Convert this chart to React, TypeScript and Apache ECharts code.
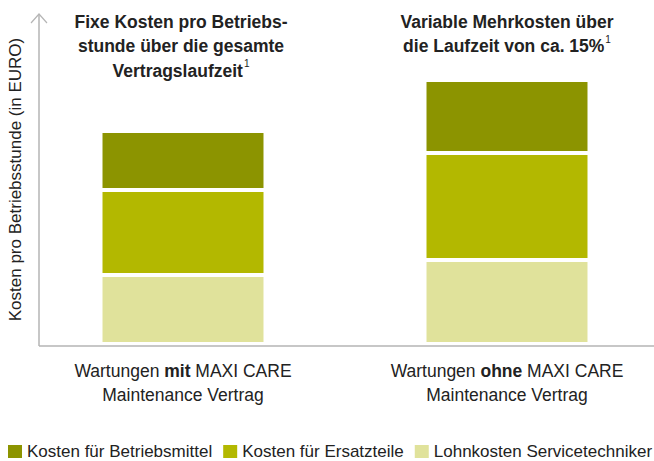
import React, { useEffect, useRef } from "react";
import * as echarts from "echarts";

const categories = ["mit", "ohne"];
const seriesNames = [
  "Kosten für Betriebsmittel",
  "Kosten für Ersatzteile",
  "Lohnkosten Servicetechniker",
];
// stacked from bottom: Lohnkosten, Ersatzteile, Betriebsmittel
const lohnkosten = [69, 84];
const ersatzteile = [85, 107];
const betriebsmittel = [59, 73];
const colors = {
  betriebsmittel: "#8c9400",
  ersatzteile: "#b3b800",
  lohnkosten: "#e0e29b",
};
const titleLeft = "Fixe Kosten pro Betriebs-\nstunde über die gesamte\nVertragslaufzeit{sup|1}";
const titleRight = "Variable Mehrkosten über\ndie Laufzeit von ca. 15%{sup|1}";
const yName = "Kosten pro Betriebsstunde (in EURO)";

const FONT = "Liberation Sans, Arial, sans-serif";
const TXT = "#222";

export default function App() {
  const ref = useRef<HTMLDivElement>(null);
  useEffect(() => {
    if (!ref.current) return;
    const chart = echarts.init(ref.current, undefined, { renderer: "svg" });
    const barCommon = {
      type: "bar",
      stack: "total",
      barWidth: 165,
      itemStyle: { borderColor: "#ffffff", borderWidth: 2 },
      emphasis: { disabled: true },
    };
    const titleRich = {
      sup: { fontSize: 10, fontWeight: "normal", fontFamily: FONT, color: TXT, verticalAlign: "top", lineHeight: 22, padding: [0, 0, 0, 1] },
    };
    chart.setOption({
      animation: false,
      grid: { left: 21, width: 648, top: 14, height: 332, outerBoundsMode: "none", containLabel: false },
      xAxis: {
        type: "category",
        data: categories,
        axisLine: { show: false },
        axisTick: { show: false },
        axisLabel: {
          margin: 13,
          interval: 0,
          lineHeight: 24,
          fontSize: 17.5,
          fontFamily: FONT,
          color: TXT,
          formatter: (v: string) => `Wartungen {b|${v}} MAXI CARE\nMaintenance Vertrag`,
          rich: {
            b: { fontWeight: "bold", fontSize: 17.5, fontFamily: FONT, color: TXT, lineHeight: 24 },
          },
        },
      },
      yAxis: { type: "value", min: -2, max: 330, show: false },
      legend: {
        left: 8,
        top: 443,
        padding: 0,
        itemWidth: 14,
        itemHeight: 13,
        itemGap: 11,
        icon: "rect",
        data: seriesNames,
        itemStyle: { borderWidth: 0 },
        textStyle: { fontSize: 17, lineHeight: 14, fontFamily: FONT, color: TXT },
      },
      series: [
        { ...barCommon, name: seriesNames[2], data: lohnkosten, itemStyle: { ...barCommon.itemStyle, color: colors.lohnkosten } },
        { ...barCommon, name: seriesNames[1], data: ersatzteile, itemStyle: { ...barCommon.itemStyle, color: colors.ersatzteile } },
        { ...barCommon, name: seriesNames[0], data: betriebsmittel, itemStyle: { ...barCommon.itemStyle, color: colors.betriebsmittel } },
      ],
      graphic: [
        { type: "line", shape: { x1: 39, y1: 14, x2: 39, y2: 346 }, style: { stroke: "#b5b5b5", lineWidth: 1.5 }, silent: true },
        { type: "line", shape: { x1: 39, y1: 346, x2: 654, y2: 346 }, style: { stroke: "#b5b5b5", lineWidth: 1.5 }, silent: true },
        { type: "polyline", shape: { points: [[31, 23], [39, 14], [47, 23]] }, style: { stroke: "#b5b5b5", lineWidth: 1.2, fill: null }, silent: true },
        {
          type: "text",
          x: 15,
          y: 179.5,
          rotation: Math.PI / 2,
          style: { text: yName, align: "center", verticalAlign: "middle", fontSize: 17, fontFamily: FONT, fill: TXT },
          silent: true,
        },
        {
          type: "text",
          x: 181,
          y: 9.5,
          style: {
            text: titleLeft, align: "center", verticalAlign: "top", fontSize: 17.5, fontWeight: "bold",
            fontFamily: FONT, fill: TXT, lineHeight: 24.5, rich: titleRich,
          },
          silent: true,
        },
        {
          type: "text",
          x: 507,
          y: 9.5,
          style: {
            text: titleRight, align: "center", verticalAlign: "top", fontSize: 17.5, fontWeight: "bold",
            fontFamily: FONT, fill: TXT, lineHeight: 24.5, rich: titleRich,
          },
          silent: true,
        },
      ],
    });
    return () => chart.dispose();
  }, []);
  return <div ref={ref} style={{ position: "absolute", left: 0, top: 0, width: 654, height: 461 }} />;
}
